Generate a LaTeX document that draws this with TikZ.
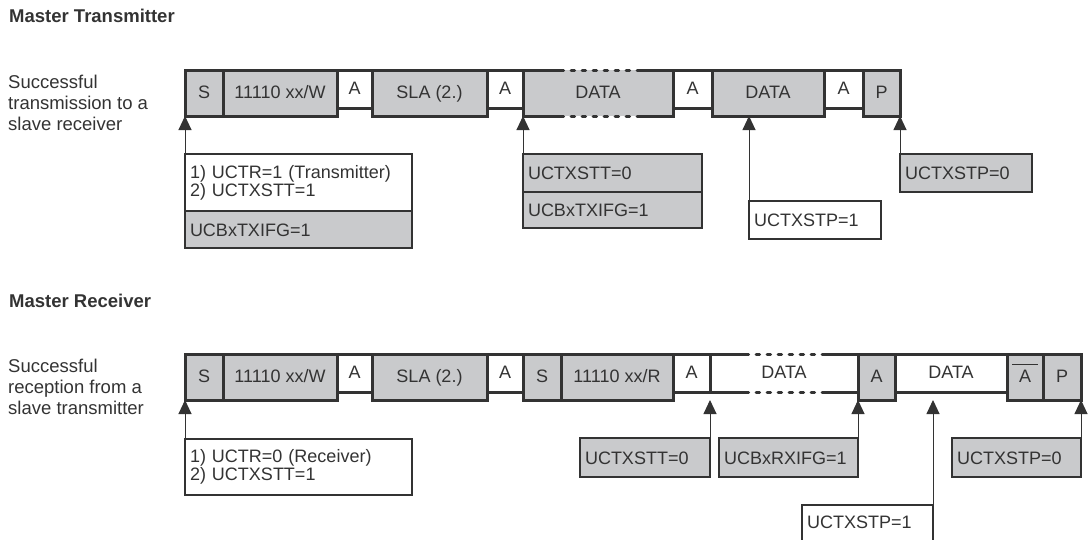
\documentclass[tikz,border=0pt]{standalone}
\usepackage{fontspec}
\setmainfont{Liberation Sans}
\usetikzlibrary{arrows.meta}
\definecolor{tinta}{HTML}{333333}
\definecolor{gris}{HTML}{C9CACC}

\begin{document}
\begin{tikzpicture}[x=1pt, y=-1pt,
		field/.style={draw=tinta, line width=3pt, anchor=north west, inner sep=0pt, outer sep=0pt, text=tinta, font=\fontsize{18}{18}\selectfont, text height=13pt, text depth=3pt},
		gfield/.style={field, fill=gris, minimum height=46pt},
		wfield/.style={field, fill=white, minimum height=38pt},
		borde/.style={draw=tinta, line width=3pt},
		cortado/.style={draw=tinta, line width=3pt, line cap=round, dash pattern=on 3.7pt off 7.3pt},
		note/.style={draw=tinta, line width=1.5pt, anchor=north west, align=left, inner xsep=5pt, inner ysep=0pt, outer sep=0pt, text=tinta, font=\fontsize{18}{18}\selectfont},
		tag/.style={note, text height=13pt, text depth=0pt},
		pointer/.style={draw=tinta, line width=1pt, -{Triangle[length=14pt, width=13pt]}},
		side/.style={inner sep=0pt, text=tinta, font=\fontsize{18.5}{21}\selectfont}]
		\useasboundingbox (0,0) rectangle (1089,539);
		\clip (0,0) rectangle (1089,539);
		
		% Master Transmitter
		\node[side, anchor=base west] (ttitle) at (9,22) {\bfseries Master Transmitter};
		\node[side, align=left, anchor=north west] (tdesc) at (8,74.5) {Successful\\transmission to a\\slave receiver};
		
		\node[gfield, minimum width=38pt] (ts) at (185,70) {S};
		\node[gfield, minimum width=114pt] (taddr) at (223,70) {11110 xx/W};
		\node[wfield, minimum width=35pt] (ta1) at (337,70) {A};
		\node[gfield, minimum width=115pt] (tsla) at (372,70) {SLA (2.)};
		\node[wfield, minimum width=36pt] (ta2) at (487,70) {A};
		\node[gfield, draw=none, minimum width=150pt] (tdata1) at (523,70) {DATA};
		\node[wfield, minimum width=39pt] (ta3) at (673,70) {A};
		\node[gfield, minimum width=112pt] (tdata2) at (712,70) {DATA};
		\node[wfield, minimum width=39pt] (ta4) at (824,70) {A};
		\node[gfield, minimum width=37pt] (tp) at (863,70) {P};
		\draw[borde] ([xshift=37pt]tdata1.north west) -| (tdata1.south west) -- ([xshift=37pt]tdata1.south west);
		\draw[borde] ([xshift=114pt]tdata1.north west) -| (tdata1.south east) -- ([xshift=114pt]tdata1.south west);
		\draw[cortado] ([xshift=37pt]tdata1.north west) -- ([xshift=114pt]tdata1.north west);
		\draw[cortado] ([xshift=37pt]tdata1.south west) -- ([xshift=114pt]tdata1.south west);
		
		\node[note, fill=white, text width=217pt, minimum height=57pt] (tn1a) at (185,154) {1) UCTR=1 (Transmitter)\\2) UCTXSTT=1};
		\node[tag, fill=gris, text width=217pt, minimum height=37pt] (tn1b) at (tn1a.south west) {UCBxTXIFG=1};
		\node[tag, fill=gris, text width=169pt, minimum height=38pt] (tn2a) at (523,154) {UCTXSTT=0};
		\node[tag, fill=gris, text width=169pt, minimum height=36pt] (tn2b) at (tn2a.south west) {UCBxTXIFG=1};
		\node[tag, fill=white, text width=122pt, minimum height=38pt] (tn3) at (749,201) {UCTXSTP=1};
		\node[tag, fill=gris, text width=122pt, minimum height=38pt] (tn4) at (900,154) {UCTXSTP=0};
		
		\draw[pointer] (tn1a.north west) -- (ts.south west);
		\draw[pointer] (tn2a.north west) -- (tdata1.south west);
		\draw[pointer] (tn3.north west) -- (tn3.north west |- tdata2.south);
		\draw[pointer] (tn4.north west) -- (tp.south east);
		
		% Master Receiver
		\node[side, anchor=base west] (rtitle) at (9,307) {\bfseries Master Receiver};
		\node[side, align=left, anchor=north west] (rdesc) at (8,358.5) {Successful\\reception from a\\slave transmitter};
		
		\node[gfield, minimum width=38pt] (rs) at (185,354) {S};
		\node[gfield, minimum width=114pt] (raddr) at (223,354) {11110 xx/W};
		\node[wfield, minimum width=35pt] (ra1) at (337,354) {A};
		\node[gfield, minimum width=115pt] (rsla) at (372,354) {SLA (2.)};
		\node[wfield, minimum width=36pt] (ra2) at (487,354) {A};
		\node[gfield, minimum width=38pt] (rs2) at (523,354) {S};
		\node[gfield, minimum width=112pt] (raddr2) at (561,354) {11110 xx/R};
		\node[wfield, minimum width=37pt] (ra3) at (673,354) {A};
		\node[wfield, draw=none, minimum width=148pt] (rdata1) at (710,354) {DATA};
		\node[gfield, minimum width=37pt] (rack) at (858,354) {A};
		\node[wfield, minimum width=112pt] (rdata2) at (895,354) {DATA};
		\node[gfield, minimum width=36pt] (rnack) at (1007,354) {\rlap{\hspace{-7pt}\raisebox{17pt}{\rule{26pt}{1.2pt}}}A};
		\node[gfield, minimum width=38pt] (rp) at (1043,354) {P};
		\draw[borde] ([xshift=35pt]rdata1.north west) -| (rdata1.south west) -- ([xshift=35pt]rdata1.south west);
		\draw[borde] ([xshift=112pt]rdata1.north west) -| (rdata1.south east) -- ([xshift=112pt]rdata1.south west);
		\draw[cortado] ([xshift=35pt]rdata1.north west) -- ([xshift=112pt]rdata1.north west);
		\draw[cortado] ([xshift=35pt]rdata1.south west) -- ([xshift=112pt]rdata1.south west);
		
		\node[note, fill=white, text width=217pt, minimum height=56pt] (rn1) at (185,439) {1) UCTR=0 (Receiver)\\2) UCTXSTT=1};
		\node[tag, fill=gris, text width=120pt, minimum height=39pt] (rn2) at (580,438) {UCTXSTT=0};
		\node[tag, fill=gris, text width=129pt, minimum height=39pt] (rn3) at (719,438) {UCBxRXIFG=1};
		\node[tag, fill=white, text width=121pt, inner ysep=10pt, text depth=20pt] (rn4) at (802,505) {UCTXSTP=1};
		\node[tag, fill=gris, text width=119pt, minimum height=39pt] (rn5) at (952,438) {UCTXSTP=0};
		
		\draw[pointer] (rn1.north west) -- (rs.south west);
		\draw[pointer] (rn2.north east) -- (rn2.north east |- rs.south);
		\draw[pointer] (rn3.north east) -- (rn3.north east |- rs.south);
		\draw[pointer] (rn4.north east) -- (rn4.north east |- rs.south);
		\draw[pointer] (rn5.north east) -- (rp.south east);
	\end{tikzpicture}
\end{document}
